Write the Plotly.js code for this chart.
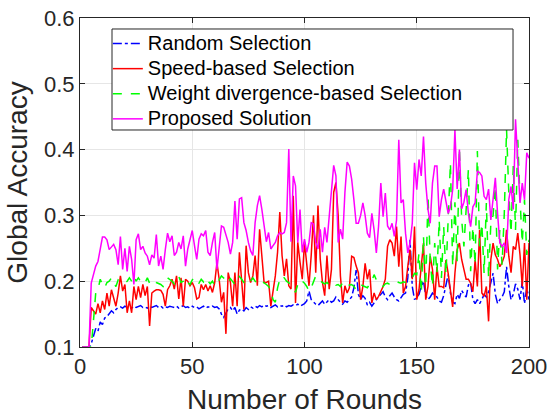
<!DOCTYPE html>
<html>
<head>
<meta charset="utf-8">
<script src="https://cdn.plot.ly/plotly-3.0.1.min.js"></script>
<style>
  html, body { margin: 0; padding: 0; background: #fff; }
  #chart { width: 547px; height: 415px; }
</style>
</head>
<body>
<div id="chart"></div>
<script>
// Series names
const seriesNames = ["Random Selection", "Speed-based Selection", "Weight divergence-based Selection", "Proposed Solution"];

// Global accuracy per round (rounds 1..200)
const randomSel = [
  0.100, 0.100, 0.100, 0.100, 0.105, 0.118, 0.128, 0.124, 0.138, 0.134,
  0.144, 0.146, 0.150, 0.155, 0.152, 0.157, 0.160, 0.161, 0.159, 0.162,
  0.160, 0.161, 0.159, 0.162, 0.160, 0.161, 0.163, 0.160, 0.161, 0.159,
  0.162, 0.160, 0.161, 0.163, 0.160, 0.162, 0.159, 0.161, 0.160, 0.162,
  0.161, 0.160, 0.162, 0.159, 0.161, 0.163, 0.160, 0.161, 0.159, 0.162,
  0.160, 0.161, 0.158, 0.160, 0.162, 0.159, 0.161, 0.160, 0.162, 0.160,
  0.161, 0.158, 0.150, 0.145, 0.152, 0.158, 0.160, 0.155, 0.160, 0.150,
  0.156, 0.158, 0.155, 0.160, 0.157, 0.161, 0.159, 0.162, 0.160, 0.163,
  0.161, 0.164, 0.162, 0.163, 0.160, 0.162, 0.164, 0.161, 0.163, 0.162,
  0.164, 0.161, 0.163, 0.162, 0.164, 0.163, 0.165, 0.162, 0.164, 0.166,
  0.170, 0.185, 0.172, 0.168, 0.165, 0.163, 0.166, 0.170, 0.165, 0.168,
  0.172, 0.168, 0.170, 0.176, 0.171, 0.168, 0.165, 0.170, 0.168, 0.172,
  0.176, 0.190, 0.217, 0.180, 0.172, 0.178, 0.174, 0.164, 0.168, 0.162,
  0.168, 0.172, 0.176, 0.180, 0.184, 0.176, 0.172, 0.178, 0.182, 0.176,
  0.172, 0.170, 0.176, 0.180, 0.182, 0.205, 0.263, 0.192, 0.172, 0.176,
  0.180, 0.192, 0.200, 0.178, 0.172, 0.176, 0.182, 0.178, 0.176, 0.170,
  0.168, 0.178, 0.196, 0.210, 0.182, 0.168, 0.166, 0.180, 0.174, 0.186,
  0.180, 0.176, 0.194, 0.198, 0.172, 0.166, 0.172, 0.166, 0.172, 0.180,
  0.176, 0.184, 0.198, 0.212, 0.180, 0.166, 0.172, 0.176, 0.184, 0.222,
  0.192, 0.172, 0.180, 0.196, 0.188, 0.172, 0.200, 0.166, 0.190, 0.172
];

const speedSel = [
  0.100, 0.100, 0.100, 0.100, 0.160, 0.155, 0.150, 0.166, 0.152, 0.170,
  0.157, 0.182, 0.162, 0.187, 0.175, 0.162, 0.182, 0.208, 0.185, 0.195,
  0.152, 0.170, 0.152, 0.192, 0.172, 0.192, 0.175, 0.195, 0.178, 0.192,
  0.132, 0.182, 0.185, 0.187, 0.187, 0.186, 0.180, 0.162, 0.187, 0.193,
  0.203, 0.188, 0.208, 0.173, 0.205, 0.162, 0.203, 0.200, 0.193, 0.198,
  0.190, 0.173, 0.175, 0.195, 0.187, 0.195, 0.185, 0.193, 0.183, 0.198,
  0.228, 0.203, 0.168, 0.183, 0.120, 0.213, 0.198, 0.162, 0.213, 0.162,
  0.244, 0.198, 0.157, 0.254, 0.213, 0.198, 0.208, 0.239, 0.193, 0.279,
  0.238, 0.198, 0.198, 0.200, 0.162, 0.188, 0.208, 0.244, 0.305, 0.239,
  0.208, 0.234, 0.193, 0.188, 0.330, 0.167, 0.259, 0.229, 0.203, 0.259,
  0.229, 0.193, 0.240, 0.300, 0.213, 0.315, 0.234, 0.198, 0.178, 0.239,
  0.188, 0.218, 0.335, 0.350, 0.299, 0.208, 0.167, 0.193, 0.182, 0.190,
  0.238, 0.236, 0.223, 0.213, 0.172, 0.192, 0.227, 0.203, 0.218, 0.167,
  0.182, 0.172, 0.177, 0.185, 0.192, 0.203, 0.253, 0.263, 0.258, 0.238,
  0.283, 0.222, 0.268, 0.182, 0.192, 0.222, 0.248, 0.203, 0.283, 0.172,
  0.187, 0.222, 0.258, 0.172, 0.192, 0.238, 0.218, 0.172, 0.222, 0.192,
  0.192, 0.190, 0.232, 0.212, 0.187, 0.161, 0.212, 0.248, 0.258, 0.233,
  0.218, 0.203, 0.203, 0.197, 0.184, 0.233, 0.192, 0.278, 0.182, 0.177,
  0.192, 0.139, 0.233, 0.258, 0.240, 0.233, 0.222, 0.228, 0.238, 0.278,
  0.238, 0.213, 0.253, 0.248, 0.273, 0.240, 0.192, 0.258, 0.172, 0.258
];

const weightDivSel = [
  0.100, 0.100, 0.100, 0.100, 0.100, 0.140, 0.182, 0.187, 0.203, 0.195,
  0.190, 0.198, 0.200, 0.205, 0.197, 0.192, 0.202, 0.200, 0.198, 0.197,
  0.200, 0.205, 0.200, 0.208, 0.200, 0.205, 0.200, 0.196, 0.198, 0.205,
  0.197, 0.200, 0.202, 0.198, 0.197, 0.195, 0.192, 0.200, 0.205, 0.203,
  0.200, 0.196, 0.203, 0.207, 0.198, 0.200, 0.205, 0.198, 0.195, 0.202,
  0.206, 0.200, 0.197, 0.203, 0.199, 0.205, 0.200, 0.196, 0.200, 0.193,
  0.196, 0.202, 0.208, 0.205, 0.200, 0.197, 0.204, 0.200, 0.195, 0.202,
  0.207, 0.203, 0.198, 0.200, 0.196, 0.200, 0.205, 0.200, 0.198, 0.202,
  0.200, 0.197, 0.195, 0.192, 0.185, 0.172, 0.168, 0.190, 0.203, 0.208,
  0.205, 0.200, 0.198, 0.195, 0.190, 0.183, 0.195, 0.202, 0.200, 0.197,
  0.192, 0.185, 0.190, 0.200, 0.208, 0.203, 0.200, 0.198, 0.196, 0.198,
  0.195, 0.197, 0.198, 0.194, 0.195, 0.192, 0.198, 0.200, 0.198, 0.194,
  0.195, 0.192, 0.187, 0.192, 0.195, 0.193, 0.192, 0.190, 0.196, 0.200,
  0.210, 0.202, 0.198, 0.194, 0.192, 0.196, 0.197, 0.195, 0.197, 0.198,
  0.200, 0.198, 0.197, 0.199, 0.198, 0.200, 0.202, 0.205, 0.212, 0.210,
  0.243, 0.182, 0.268, 0.192, 0.330, 0.232, 0.192, 0.258, 0.212, 0.293,
  0.205, 0.283, 0.210, 0.300, 0.380, 0.222, 0.320, 0.230, 0.402, 0.294,
  0.253, 0.309, 0.370, 0.215, 0.283, 0.225, 0.398, 0.253, 0.288, 0.212,
  0.319, 0.205, 0.288, 0.300, 0.344, 0.218, 0.278, 0.225, 0.304, 0.431,
  0.334, 0.273, 0.375, 0.278, 0.415, 0.324, 0.258, 0.324, 0.240, 0.263
];

const proposed = [
  0.100, 0.100, 0.100, 0.100, 0.197, 0.210, 0.223, 0.230, 0.248, 0.267,
  0.267, 0.263, 0.248, 0.253, 0.256, 0.248, 0.225, 0.268, 0.218, 0.250,
  0.215, 0.253, 0.233, 0.195, 0.263, 0.272, 0.248, 0.253, 0.243, 0.238,
  0.225, 0.240, 0.235, 0.271, 0.223, 0.238, 0.218, 0.248, 0.273, 0.260,
  0.269, 0.239, 0.244, 0.259, 0.249, 0.269, 0.223, 0.249, 0.262, 0.277,
  0.254, 0.233, 0.264, 0.272, 0.269, 0.277, 0.244, 0.239, 0.259, 0.274,
  0.218, 0.249, 0.284, 0.282, 0.269, 0.259, 0.241, 0.259, 0.322, 0.264,
  0.325, 0.327, 0.289, 0.277, 0.259, 0.246, 0.239, 0.289, 0.315, 0.330,
  0.309, 0.284, 0.260, 0.274, 0.249, 0.254, 0.259, 0.269, 0.274, 0.272,
  0.274, 0.289, 0.401, 0.260, 0.360, 0.345, 0.259, 0.309, 0.244, 0.264,
  0.244, 0.259, 0.289, 0.287, 0.259, 0.249, 0.279, 0.244, 0.282, 0.259,
  0.300, 0.330, 0.376, 0.360, 0.259, 0.279, 0.264, 0.335, 0.381, 0.375,
  0.355, 0.324, 0.288, 0.288, 0.300, 0.319, 0.300, 0.273, 0.266, 0.303,
  0.278, 0.243, 0.284, 0.349, 0.298, 0.334, 0.284, 0.278, 0.288, 0.268,
  0.293, 0.415, 0.319, 0.324, 0.273, 0.243, 0.258, 0.288, 0.380, 0.339,
  0.385, 0.360, 0.420, 0.349, 0.309, 0.288, 0.349, 0.375, 0.375, 0.298,
  0.324, 0.340, 0.324, 0.303, 0.313, 0.339, 0.430, 0.340, 0.400, 0.310,
  0.320, 0.339, 0.303, 0.283, 0.313, 0.319, 0.367, 0.365, 0.360, 0.329,
  0.324, 0.340, 0.293, 0.324, 0.357, 0.303, 0.258, 0.253, 0.258, 0.243,
  0.324, 0.344, 0.309, 0.446, 0.375, 0.319, 0.349, 0.324, 0.395, 0.387
];

const rounds = randomSel.map((_, i) => i + 1);

const xTicks = [0, 50, 100, 150, 200];
const yTicks = [0.1, 0.2, 0.3, 0.4, 0.5, 0.6];

const FONT = '"Liberation Sans", Arial, Helvetica, sans-serif';
const AX = '#262626';

const traces = [
  { x: rounds, y: randomSel, name: seriesNames[0], type: 'scatter', mode: 'lines',
    line: { color: '#0000ff', width: 1.5, dash: 'dashdot' } },
  { x: rounds, y: speedSel, name: seriesNames[1], type: 'scatter', mode: 'lines',
    line: { color: '#ff0000', width: 1.5 } },
  { x: rounds, y: weightDivSel, name: seriesNames[2], type: 'scatter', mode: 'lines',
    line: { color: '#00ff00', width: 1.5, dash: 'dash' } },
  { x: rounds, y: proposed, name: seriesNames[3], type: 'scatter', mode: 'lines',
    line: { color: '#ff00ff', width: 1.5 } }
];

const axisCommon = {
  showline: true, linecolor: AX, linewidth: 1, mirror: 'ticks',
  ticks: 'inside', ticklen: 5, tickcolor: AX, tickwidth: 1,
  showgrid: true, gridcolor: '#e6e6e6', gridwidth: 1,
  zeroline: false, tickfont: { family: FONT, size: 22, color: AX },
  ticklabeloverflow: 'allow',
  automargin: false
};

const layout = {
  width: 547, height: 415,
  margin: { l: 80, r: 18, t: 18, b: 68 },
  paper_bgcolor: '#ffffff', plot_bgcolor: '#ffffff',
  font: { family: FONT, color: AX },
  showlegend: true,
  legend: {
    x: 0.062, y: 0.9757, xanchor: 'left', yanchor: 'top',
    bgcolor: 'rgba(0,0,0,0)', borderwidth: 0,
    font: { family: FONT, size: 17, color: '#000000' },
    tracegroupgap: 0
  },
  // legend frame
  shapes: [{
    type: 'rect', xref: 'paper', yref: 'paper', layer: 'above',
    x0: 0.0713, x1: 0.9644, y0: 0.6596, y1: 0.9666,
    fillcolor: '#ffffff', line: { color: AX, width: 1 }
  }],
  xaxis: Object.assign({}, axisCommon, {
    range: [0, 200], tickvals: xTicks, ticktext: xTicks.map(String),
    title: { text: 'Number of Rounds', font: { family: FONT, size: 28, color: AX }, standoff: 11 }
  }),
  yaxis: Object.assign({}, axisCommon, {
    range: [0.1, 0.6], tickvals: yTicks, ticktext: yTicks.map(v => v.toFixed(1)),
    title: { text: 'Global Accuracy', font: { family: FONT, size: 28, color: AX }, standoff: 8 }
  })
};

Plotly.newPlot('chart', traces, layout, { staticPlot: true, displayModeBar: false }).then(() => {
  // MATLAB-style legend: larger text on compact rows, no clipping of the entries
  document.querySelectorAll('#chart .legend [clip-path]').forEach(e => e.removeAttribute('clip-path'));
  document.querySelectorAll('#chart .legendtext').forEach(t => { t.style.fontSize = '20px'; });
});
</script>
</body>
</html>
